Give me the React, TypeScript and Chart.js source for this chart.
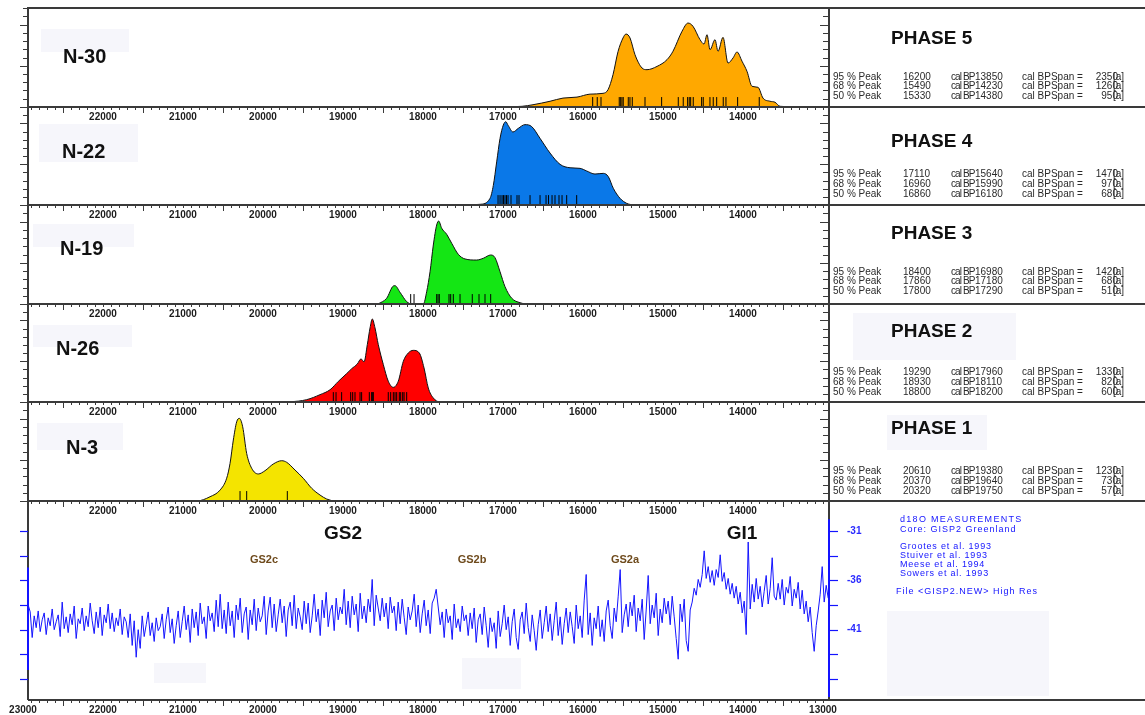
import React, { useEffect, useRef } from "react";
import { Chart, registerables } from "chart.js";

Chart.register(...registerables);

const FONT = "'Liberation Sans', Arial, Helvetica, sans-serif";
Chart.defaults.font.family = FONT;

// ---------------- data ----------------
// x axis: calendar years BP (reversed, old on the left)
const X_MIN = 12925;
const X_MAX = 22937.5;
const PANEL_TICK_LABELS = [22000, 21000, 20000, 19000, 18000, 17000, 16000, 15000, 14000];
const BOTTOM_TICK_LABELS = [23000, 22000, 21000, 20000, 19000, 18000, 17000, 16000, 15000, 14000, 13000];
const X_MINOR_FROM = 13000;
const X_MINOR_TO = 22900;
const X_MINOR_STEP = 100;

// Phase 5 / N-30
const N30_YEARS = [17037, 16762, 16625, 16412, 16250, 16075, 15912, 15750, 15687, 15625, 15562, 15500, 15462, 15412, 15350, 15262, 15200, 15075, 14950, 14875, 14762, 14687, 14625, 14537, 14487, 14450, 14412, 14350, 14312, 14250, 14187, 14125, 14075, 14012, 13950, 13887, 13812, 13750, 13662, 13600, 13537, 13287];
const N30_PROB = [0, 0.7, 2.3, 5.8, 9, 10, 13, 13.8, 17.5, 32.6, 56, 69.7, 73.7, 69.7, 52.8, 39.4, 37.7, 41, 47.8, 56.3, 76.5, 84.8, 81.5, 68, 63.6, 73, 57.9, 68, 56.3, 70.4, 44.4, 49.5, 55.6, 46.2, 36, 20.9, 19.9, 9, 5.8, 4.8, 0.7, 0];
const N30_DATES = [15879, 15822, 15775, 15547, 15529, 15513, 15497, 15434, 15413, 15384, 15225, 15017, 14809, 14747, 14692, 14672, 14654, 14622, 14517, 14497, 14413, 14372, 14329, 14247, 14213, 14067, 13797];

// Phase 4 / N-22
const N22_YEARS = [17500, 17287, 17162, 17121, 17079, 17037, 16996, 16966, 16934, 16875, 16809, 16725, 16641, 16537, 16412, 16287, 16162, 16037, 15954, 15850, 15746, 15684, 15621, 15537, 15454, 15375];
const N22_PROB = [0, 0.7, 6.8, 20, 44, 68, 81.6, 85, 81, 74.5, 78.2, 82, 80, 68, 53, 41.5, 38, 37.4, 34.7, 31.6, 32.3, 29, 17, 6.8, 1.7, 0];
const N22_DATES = [17062, 17037, 17012, 16994, 16975, 16956, 16937, 16900, 16825, 16800, 16662, 16537, 16462, 16431, 16387, 16350, 16300, 16262, 16204, 16079];

// Phase 3 / N-19
const N19_YEARS = [18562, 18454, 18371, 18350, 18287, 18204, 18141, 17996, 17954, 17912, 17871, 17829, 17804, 17766, 17704, 17641, 17559, 17475, 17329, 17246, 17154, 17100, 17037, 16975, 16891, 16787, 16704, 16575];
const N19_PROB = [0, 5.8, 18.2, 18.5, 11.8, 2.4, 0, 0, 12.4, 32.6, 59.6, 79.8, 83.8, 76.5, 70.4, 61.3, 50.2, 45.5, 44.4, 46.2, 49.5, 46.8, 32.6, 17.5, 5.8, 1.3, 0, 0];
const N19_DATES = [18154, 18112, 17829, 17812, 17796, 17675, 17654, 17621, 17537, 17384, 17300, 17225, 17154];

// Phase 2 / N-26
const N26_YEARS = [19950, 19662, 19454, 19287, 19162, 19059, 18954, 18891, 18821, 18775, 18737, 18696, 18662, 18634, 18600, 18559, 18496, 18434, 18371, 18309, 18246, 18184, 18121, 18046, 17987, 17934, 17871, 17787, 17454];
const N26_PROB = [0, 0.3, 2.4, 7.5, 12.5, 21, 29, 34, 38.8, 44, 41, 58.6, 75.6, 84.7, 75.6, 58.6, 38.2, 21.2, 15, 21.2, 41.5, 50, 52.7, 50, 34.7, 14.3, 4.1, 0, 0];
const N26_DATES = [19121, 19087, 19017, 18904, 18879, 18850, 18787, 18767, 18671, 18642, 18629, 18621, 18434, 18404, 18371, 18350, 18329, 18296, 18279, 18254, 18237, 18204];

// Phase 1 / N-3
const N3_YEARS = [20912, 20829, 20662, 20537, 20454, 20412, 20371, 20329, 20296, 20254, 20204, 20141, 20059, 19975, 19871, 19766, 19704, 19600, 19496, 19391, 19287, 19204, 19121];
const N3_PROB = [0, 0, 4.3, 11, 23, 38, 61.6, 80, 83.5, 75, 48, 33, 27.3, 30.6, 37.4, 40.7, 39.1, 31.3, 22.9, 12.8, 6, 2, 0];
const N3_DATES = [20287, 20204, 19696];

// d18O GISP2 record, sampled every 25 years from 22935 BP towards 12935 BP
const D18O_START = 22935;
const D18O_STEP = 25;
const D18O = [
  -38.5, -39.2, -41.8, -39.6, -40.8, -39.1, -41.2, -40.0, -39.3, -41.5, -39.8, -40.6, -38.9, -41.0, -40.2, -39.5, -41.7, -38.2, -40.9, -39.7,
  -41.3, -39.4, -40.5, -38.6, -41.9, -39.9, -40.4, -38.8, -41.1, -39.6, -40.7, -38.3, -40.1, -41.4, -39.2, -40.8, -38.7, -41.6, -39.5, -40.3,
  -38.4, -40.9, -39.3, -41.2, -39.8, -40.6, -38.9, -41.5, -39.7, -40.2, -41.8, -39.4, -42.6, -40.1, -43.8, -41.0, -42.9, -39.6, -41.7, -40.5,
  -39.2, -41.6, -40.3, -42.2, -39.8, -41.1, -40.7, -39.4, -41.9, -40.0, -38.7, -41.3, -39.9, -42.4, -40.6, -39.1, -41.8, -40.2, -38.6, -41.0,
  -39.5, -42.3, -38.9, -40.8, -39.2, -41.6, -38.3, -40.4, -39.7, -41.9, -38.6, -40.1, -39.3, -41.2, -38.0, -40.7, -37.4, -40.9, -39.0, -41.4,
  -38.2, -40.6, -39.1, -41.8, -38.5, -40.0, -37.8, -41.3, -39.4, -38.7, -42.0, -39.0, -40.5, -37.9, -41.1, -38.8, -40.2, -39.6, -37.6, -41.5,
  -39.1, -37.7, -40.8, -38.4, -41.2, -39.5, -37.9, -40.3, -38.6, -41.7, -39.0, -38.2, -40.6, -37.5, -40.9, -38.8, -39.7, -41.0, -38.1, -40.4,
  -38.3, -41.3, -39.6, -37.4, -40.2, -38.9, -41.6, -38.0, -39.8, -37.2, -40.7, -39.1, -38.5, -41.1, -37.8, -40.0, -38.7, -39.4, -36.9, -40.5,
  -38.1, -40.8, -37.6, -39.5, -38.4, -41.2, -37.3, -39.9, -38.6, -40.3, -37.9, -39.2, -35.9, -40.6, -37.5, -38.8, -40.1, -37.8, -39.7, -38.3,
  -40.9, -37.7, -39.3, -38.6, -41.1, -38.2, -40.4, -37.9, -39.8, -41.5, -38.7, -40.0, -39.1, -37.4, -40.7, -38.5, -41.3, -39.4, -38.0, -40.6,
  -39.0, -41.4, -38.3, -37.8, -36.9, -38.7, -40.5, -39.2, -41.8, -38.9, -40.3, -39.6, -42.0, -38.4, -40.8, -39.9, -41.2, -38.6, -40.1, -39.5,
  -41.6, -39.3, -40.9, -38.8, -42.3, -40.0, -39.4, -41.5, -38.7, -40.6, -42.8, -39.8, -41.2, -40.3, -42.9, -39.1, -41.7, -40.4, -38.5, -41.0,
  -39.7, -42.6, -40.2, -38.9, -41.8, -43.0, -40.0, -39.2, -41.4, -38.3, -40.8, -42.2, -39.5, -41.1, -43.1, -40.5, -39.0, -41.9, -40.3, -38.6,
  -41.2, -39.4, -42.1, -40.1, -38.2, -41.6, -39.7, -42.5, -40.4, -38.8, -41.3, -39.2, -40.7, -42.4, -38.5, -40.9, -39.6, -41.8, -38.0, -35.4,
  -41.5, -39.3, -42.6, -39.8, -40.9, -38.6, -41.7, -40.0, -42.2, -39.1, -38.0, -40.6, -41.9, -38.8, -40.2, -37.6, -34.9, -41.3, -39.5, -38.4,
  -40.7, -38.2, -39.6, -37.5, -41.2, -38.8, -40.1, -37.9, -42.0, -39.0, -35.5, -40.4, -38.5, -39.8, -37.3, -41.6, -38.9, -40.3, -37.8, -39.4,
  -38.1, -40.5, -37.6, -39.7, -41.9, -44.0, -38.4, -40.2, -37.9, -42.1, -43.2, -39.0, -38.2, -36.8, -37.5, -35.9, -36.7, -35.4, -33.0, -35.8,
  -34.6, -36.2, -35.0, -36.5, -34.9, -35.7, -33.4, -36.1, -35.2, -36.9, -35.8, -37.4, -36.3, -37.8, -36.6, -38.4, -37.2, -39.3, -38.1, -41.5,
  -32.1, -38.9, -36.4, -38.2, -35.8, -37.9, -36.6, -38.7, -37.1, -35.5, -38.4, -36.8, -33.7, -37.6, -38.0, -36.3, -37.9, -35.9, -38.5, -36.7,
  -37.3, -35.6, -38.6, -36.9, -37.8, -36.2, -38.9, -37.0, -39.4, -38.1, -40.2, -38.7, -41.3, -43.2, -40.6, -39.1, -37.4, -34.6, -38.2, -36.5,
  -37.8,
];
const D18O_MIN = -48.14;
const D18O_MAX = -27.94;
const D18O_TICK_LABELS = [-31, -36, -41];
const D18O_TICKS = [-31, -33.5, -36, -38.5, -41, -43.5, -46];

// text blocks
const SAMPLE_NAMES = ["N-30", "N-22", "N-19", "N-26", "N-3"];
const PHASE_NAMES = ["PHASE 5", "PHASE 4", "PHASE 3", "PHASE 2", "PHASE 1"];
const HPD_LEVELS = ["95 % Peak", "68 % Peak", "50 % Peak"];
const P5_FROM = [16200, 15490, 15330];
const P5_TO = [13850, 14230, 14380];
const P5_SPAN = [2350, 1260, 950];
const P4_FROM = [17110, 16960, 16860];
const P4_TO = [15640, 15990, 16180];
const P4_SPAN = [1470, 970, 680];
const P3_FROM = [18400, 17860, 17800];
const P3_TO = [16980, 17180, 17290];
const P3_SPAN = [1420, 680, 510];
const P2_FROM = [19290, 18930, 18800];
const P2_TO = [17960, 18110, 18200];
const P2_SPAN = [1330, 820, 600];
const P1_FROM = [20610, 20370, 20320];
const P1_TO = [19380, 19640, 19750];
const P1_SPAN = [1230, 730, 570];
const STADIAL_LABELS = ["GS2c", "GS2b", "GS2a"];
const ISO_NOTES = ["d18O MEASUREMENTS", "Core: GISP2 Greenland"];
const ISO_REFS = ["Grootes et al. 1993", "Stuiver et al. 1993", "Meese et al. 1994", "Sowers et al. 1993"];
const ISO_FILE = "File <GISP2.NEW> High Res";

// ---------------- layout / styles ----------------
const W = 1145;
const H = 715;
const PLOT_LEFT = 28;
const PLOT_RIGHT = 829;
const EDGES = [8, 107, 205, 304, 402, 501, 700];
const FILLS = ["#ffa800", "#0a78e8", "#14e614", "#ff0000", "#f4e400"];
const FRAME = "#3a3a3a";
const ISO_BLUE = "#1414ff";
const RUG_MID = 5;

const PANELS = [
  { years: N30_YEARS, prob: N30_PROB, dates: N30_DATES },
  { years: N22_YEARS, prob: N22_PROB, dates: N22_DATES },
  { years: N19_YEARS, prob: N19_PROB, dates: N19_DATES },
  { years: N26_YEARS, prob: N26_PROB, dates: N26_DATES },
  { years: N3_YEARS, prob: N3_PROB, dates: N3_DATES },
];
const STATS = [
  [P5_FROM, P5_TO, P5_SPAN],
  [P4_FROM, P4_TO, P4_SPAN],
  [P3_FROM, P3_TO, P3_SPAN],
  [P2_FROM, P2_TO, P2_SPAN],
  [P1_FROM, P1_TO, P1_SPAN],
];

function seg(ctx: CanvasRenderingContext2D, x1: number, y1: number, x2: number, y2: number) {
  ctx.beginPath();
  ctx.moveTo(x1, y1);
  ctx.lineTo(x2, y2);
  ctx.stroke();
}

function xMinorTicks(chart: any, ctx: CanvasRenderingContext2D) {
  const a = chart.chartArea;
  const xs = chart.scales.x;
  ctx.lineWidth = 1;
  ctx.strokeStyle = FRAME;
  for (let v = X_MINOR_FROM; v <= X_MINOR_TO; v += X_MINOR_STEP) {
    const px = Math.round(xs.getPixelForValue(v)) + 0.5;
    const len = v % 1000 === 500 ? 6 : 3;
    seg(ctx, px, a.bottom, px, a.bottom + len);
  }
}

function densityFrame(drawTop: boolean) {
  return {
    id: "densityFrame",
    afterDraw(chart: any) {
      const { ctx, chartArea: a } = chart;
      const ys = chart.scales.y;
      ctx.save();
      xMinorTicks(chart, ctx);
      ctx.lineWidth = 1;
      for (let k = 0; k <= 12; k++) {
        const py = Math.round(ys.getPixelForValue((k * 100) / 12)) + 0.5;
        const len = k % 5 === 0 ? 8 : 5;
        seg(ctx, a.left - len, py, a.left, py);
        seg(ctx, a.right - len - 1, py, a.right, py);
      }
      ctx.lineWidth = 2;
      ctx.strokeStyle = FRAME;
      seg(ctx, a.left, a.bottom, W, a.bottom);
      if (drawTop) seg(ctx, a.left - 1, a.top, W, a.top);
      seg(ctx, a.left, a.top, a.left, a.bottom);
      seg(ctx, a.right, a.top, a.right, a.bottom);
      ctx.restore();
    },
  };
}

const isoFrame = {
  id: "isoFrame",
  afterDraw(chart: any) {
    const { ctx, chartArea: a } = chart;
    const ys = chart.scales.y;
    ctx.save();
    xMinorTicks(chart, ctx);
    ctx.lineWidth = 2;
    ctx.strokeStyle = FRAME;
    seg(ctx, a.left, a.bottom, W, a.bottom);
    seg(ctx, a.left, a.top, a.left, a.bottom);
    seg(ctx, a.right, a.top, a.right, a.bottom);
    ctx.strokeStyle = ISO_BLUE;
    seg(ctx, a.left, ys.getPixelForValue(-34.7), a.left, ys.getPixelForValue(-45.1));
    seg(ctx, a.right, ys.getPixelForValue(-29.8), a.right, a.bottom - 3);
    ctx.lineWidth = 1.2;
    for (const v of D18O_TICKS) {
      const py = Math.round(ys.getPixelForValue(v)) + 0.5;
      seg(ctx, a.left - 8, py, a.left, py);
      seg(ctx, a.right, py, a.right + 9, py);
    }
    ctx.restore();
  },
};

function xAxis(labels: number[], height: number) {
  return {
    type: "linear",
    min: X_MIN,
    max: X_MAX,
    reverse: true,
    afterBuildTicks: (s: any) => {
      s.ticks = labels.map((v) => ({ value: v }));
    },
    afterFit: (s: any) => {
      s.height = height;
    },
    grid: { display: false, drawTicks: false },
    border: { display: false },
    ticks: {
      autoSkip: false,
      maxRotation: 0,
      padding: 4,
      color: "#1c1c1c",
      font: { size: 10, weight: "bold", family: FONT },
      callback: (v: any) => String(v),
    },
  };
}

function densityConfig(i: number) {
  const p = PANELS[i];
  return {
    type: "line",
    data: {
      datasets: [
        {
          data: p.dates.map((d) => ({ x: d, y: RUG_MID })),
          showLine: false,
          pointStyle: "line",
          pointRotation: 90,
          pointRadius: 5,
          pointBorderColor: "#000",
          pointBorderWidth: 1,
          order: 0,
        },
        {
          data: p.years.map((x, k) => ({ x, y: p.prob[k] })),
          borderColor: "#111",
          borderWidth: 1,
          backgroundColor: FILLS[i],
          fill: "origin",
          pointRadius: 0,
          cubicInterpolationMode: "monotone",
          order: 1,
        },
      ],
    },
    options: {
      animation: false,
      responsive: false,
      devicePixelRatio: 1,
      events: [],
      layout: { padding: { left: PLOT_LEFT, right: W - PLOT_RIGHT, top: EDGES[i], bottom: 0 } },
      plugins: { legend: { display: false }, tooltip: { enabled: false } },
      scales: {
        x: xAxis(PANEL_TICK_LABELS, H - EDGES[i + 1]),
        y: { type: "linear", min: 0, max: 100, display: false },
      },
    },
    plugins: [densityFrame(i === 0)],
  };
}

function isoConfig() {
  return {
    type: "line",
    data: {
      datasets: [
        {
          data: D18O.map((v, k) => ({ x: D18O_START - k * D18O_STEP, y: v })),
          borderColor: ISO_BLUE,
          borderWidth: 1,
          pointRadius: 0,
          fill: false,
          tension: 0,
        },
      ],
    },
    options: {
      animation: false,
      responsive: false,
      devicePixelRatio: 1,
      events: [],
      layout: { padding: { left: PLOT_LEFT, right: 0, top: EDGES[5], bottom: 0 } },
      plugins: { legend: { display: false }, tooltip: { enabled: false } },
      scales: {
        x: xAxis(BOTTOM_TICK_LABELS, H - EDGES[6]),
        y: {
          type: "linear",
          position: "right",
          min: D18O_MIN,
          max: D18O_MAX,
          afterFit: (s: any) => {
            s.width = W - PLOT_RIGHT;
          },
          afterBuildTicks: (s: any) => {
            s.ticks = D18O_TICK_LABELS.map((v) => ({ value: v }));
          },
          grid: { display: false, drawTicks: true, tickLength: 10 },
          border: { display: false },
          ticks: {
            padding: 8,
            color: "#2a2aff",
            font: { size: 10, weight: "bold", family: FONT },
            callback: (v: any) => String(v),
          },
        },
      },
    },
    plugins: [isoFrame],
  };
}

type TProps = {
  x: number;
  y: number;
  size: number;
  weight?: string | number;
  color?: string;
  align?: "left" | "right" | "center";
  ls?: number;
  children: React.ReactNode;
};

function T({ x, y, size, weight = "normal", color = "#111", align = "left", ls = 0, children }: TProps) {
  const style: React.CSSProperties = {
    position: "absolute",
    top: y - size * 0.49,
    fontSize: size,
    lineHeight: `${size}px`,
    fontWeight: weight as any,
    color,
    whiteSpace: "nowrap",
    letterSpacing: ls,
    fontFamily: FONT,
  };
  if (align === "left") style.left = x;
  else if (align === "right") style.right = W - x;
  else {
    style.left = x;
    style.transform = "translateX(-50%)";
  }
  return <div style={style}>{children}</div>;
}

function Shade({ x1, y1, x2, y2 }: { x1: number; y1: number; x2: number; y2: number }) {
  return (
    <div
      style={{ position: "absolute", left: x1, top: y1, width: x2 - x1, height: y2 - y1, background: "#f6f6fb" }}
    />
  );
}

const SAMPLE_POS = [
  [63, 56],
  [62, 151],
  [60, 248],
  [56, 348],
  [66, 447],
];
const PHASE_Y = [37, 140, 232, 330, 427];
const STAT_Y = [
  [77, 86, 95.5],
  [174, 184, 194],
  [272, 281, 291],
  [372, 382, 392],
  [471, 481, 491],
];
const STADIAL_X = [264, 472, 625];
const ISO_REF_Y = [546, 555, 564, 573];

export default function App() {
  const canvases = useRef<(HTMLCanvasElement | null)[]>([]);

  useEffect(() => {
    const charts: Chart[] = [];
    for (let i = 0; i < 5; i++) {
      const c = canvases.current[i];
      if (c) charts.push(new Chart(c, densityConfig(i) as any));
    }
    const last = canvases.current[5];
    if (last) charts.push(new Chart(last, isoConfig() as any));
    return () => charts.forEach((c) => c.destroy());
  }, []);

  const stat = "#2a2a2a";

  return (
    <div
      style={{
        position: "absolute",
        left: 0,
        top: 0,
        width: W,
        height: H,
        background: "#fff",
        overflow: "hidden",
        fontFamily: FONT,
      }}
    >
      <Shade x1={41} y1={29} x2={129} y2={52} />
      <Shade x1={39} y1={124} x2={138} y2={162} />
      <Shade x1={33} y1={224} x2={134} y2={247} />
      <Shade x1={33} y1={325} x2={132} y2={347} />
      <Shade x1={37} y1={423} x2={123} y2={450} />
      <Shade x1={853} y1={313} x2={1016} y2={360} />
      <Shade x1={887} y1={415} x2={987} y2={450} />
      <Shade x1={154} y1={663} x2={206} y2={683} />
      <Shade x1={462} y1={658} x2={521} y2={689} />
      <Shade x1={887} y1={611} x2={1049} y2={696} />

      {[0, 1, 2, 3, 4, 5].map((i) => (
        <canvas
          key={i}
          ref={(el) => {
            canvases.current[i] = el;
          }}
          width={W}
          height={H}
          style={{ position: "absolute", left: 0, top: 0, width: W, height: H }}
        />
      ))}

      {SAMPLE_NAMES.map((n, i) => (
        <T key={n} x={SAMPLE_POS[i][0]} y={SAMPLE_POS[i][1]} size={20} weight="bold" color="#111">
          {n}
        </T>
      ))}

      {PHASE_NAMES.map((n, i) => (
        <T key={n} x={891} y={PHASE_Y[i]} size={19} weight="bold" color="#111">
          {n}
        </T>
      ))}

      {STATS.map(([from, to, span], i) =>
        HPD_LEVELS.map((lvl, r) => (
          <React.Fragment key={`${i}-${r}`}>
            <T x={833} y={STAT_Y[i][r]} size={10} color={stat}>
              {lvl}
            </T>
            <T x={903} y={STAT_Y[i][r]} size={10} color={stat}>
              {from[r]}
            </T>
            <T x={951} y={STAT_Y[i][r]} size={10} color={stat} ls={-0.9}>
              cal BP
            </T>
            <T x={975} y={STAT_Y[i][r]} size={10} color={stat}>
              {to[r]}
            </T>
            <T x={1022} y={STAT_Y[i][r]} size={10} color={stat}>
              cal BPSpan =
            </T>
            <T x={1118} y={STAT_Y[i][r]} size={10} color={stat} align="right">
              {span[r]}
            </T>
            <T x={1113} y={STAT_Y[i][r]} size={10} color={stat}>
              [a]
            </T>
          </React.Fragment>
        ))
      )}

      <T x={343} y={532} size={19} weight="bold" align="center" color="#111">
        GS2
      </T>
      <T x={742} y={532} size={19} weight="bold" align="center" color="#111">
        GI1
      </T>
      {STADIAL_LABELS.map((s, i) => (
        <T key={s} x={STADIAL_X[i]} y={559} size={11} weight="bold" align="center" color="#6e4a1c">
          {s}
        </T>
      ))}

      <T x={900} y={519} size={9} color={ISO_BLUE} ls={1.3}>
        {ISO_NOTES[0]}
      </T>
      <T x={900} y={529} size={9} color={ISO_BLUE} ls={1}>
        {ISO_NOTES[1]}
      </T>
      {ISO_REFS.map((r, i) => (
        <T key={r} x={900} y={ISO_REF_Y[i]} size={9} color={ISO_BLUE} ls={0.8}>
          {r}
        </T>
      ))}
      <T x={896} y={591} size={9} color={ISO_BLUE} ls={1}>
        {ISO_FILE}
      </T>
    </div>
  );
}
